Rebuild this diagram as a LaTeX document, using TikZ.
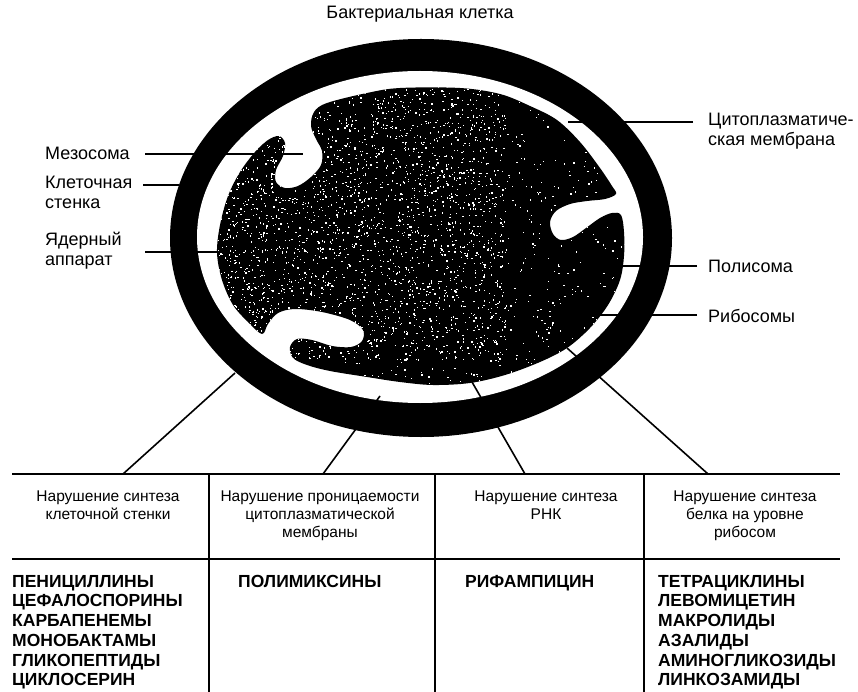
\documentclass[tikz,border=0pt]{standalone}
\usepackage{fontspec}
\setmainfont{Liberation Sans}

\begin{document}
\begin{tikzpicture}[x=1pt,y=-1pt,
    lbl/.style={anchor=north west,inner sep=0pt,align=left,font=\fontsize{18}{20}\selectfont},
    head/.style={anchor=north,inner sep=0pt,align=center,font=\fontsize{15.5}{18}\selectfont},
    drug/.style={anchor=north west,inner sep=0pt,align=left,font=\bfseries\fontsize{17.5}{19.7}\selectfont},
    lead/.style={line width=1.6pt},
    rule/.style={line width=2pt}
  ]
    \useasboundingbox (0,0) rectangle (858,692);

    % cell wall
    \fill (421,238) ellipse [x radius=251pt, y radius=199pt];
    \fill[white] (420,237) ellipse [x radius=223pt, y radius=166pt];

    % cytoplasm with mesosomes, speckled
    \begin{scope}
      \clip plot[smooth cycle, tension=0.55] coordinates {
        (327,103) (367,93) (400,88) (460,88) (500,94) (530,106) (557,120)
        (580,142) (600,168) (612,186) (616,194)
        (605,199) (587,201) (570,204) (556,211) (550,222) (553,234)
        (561,240) (573,237) (586,228) (600,218) (612,213) (621,215)
        (624,232) (624,256) (620,280) (608,305) (590,328) (567,348)
        (540,362) (505,375) (470,383) (433,385) (400,382) (367,377)
        (330,371) (307,365) (293,358) (290,347) (297,339) (312,340)
        (332,346) (351,347) (362,341) (363,330) (350,320) (322,312)
        (295,309) (278,313) (268,324) (262,334) (248,322) (233,305)
        (222,280) (217,253) (220,225) (228,196) (240,172) (255,152)
        (268,140) (279,136) (285,143) (283,156) (276,170) (276,182)
        (285,188) (298,186) (311,177) (321,165) (322,151) (316,139)
        (311,126) (314,112)};
      \fill (200,80) rectangle (640,400);
      \pgfmathsetseed{42}
      \foreach \i in {1,...,1000}{
        \pgfmathsetmacro{\px}{215+410*rnd}
        \pgfmathsetmacro{\py}{85+305*rnd}
        \fill[white] (\px,\py) rectangle ++(1.3,1.3);
      }
      \foreach \i in {1,...,2200}{
        \pgfmathsetmacro{\px}{215+290*rnd}
        \pgfmathsetmacro{\py}{85+275*rnd}
        \fill[white] (\px,\py) rectangle ++(1.3,1.3);
      }
    \end{scope}

    % title and labels
    \node[lbl,anchor=base] (title) at (420,19) {Бактериальная клетка};
    \node[lbl] (meso) at (45,147) {Мезосома};
    \node[lbl] (wall) at (45,176) {Клеточная\\стенка};
    \node[lbl] (nucl) at (45,232) {Ядерный\\аппарат};
    \node[lbl] (memb) at (708,113) {Цитоплазматиче-\\ская мембрана};
    \node[lbl] (poly) at (708,260) {Полисома};
    \node[lbl] (ribo) at (708,309) {Рибосомы};

    % leader ends
    \coordinate (mesoL) at (145,154);  \coordinate (mesoR) at (303,154);
    \coordinate (wallL) at (143,185);  \coordinate (wallR) at (179,185);
    \coordinate (nuclL) at (145,252);  \coordinate (nuclR) at (220,252);
    \coordinate (membR) at (693,122);  \coordinate (membL) at (568,122);
    \coordinate (polyR) at (697,266);  \coordinate (polyL) at (623,266);
    \coordinate (riboR) at (697,315);  \coordinate (riboL) at (597,315);

    \draw[lead] (mesoL) -- (mesoR);
    \draw[lead] (wallL) -- (wallR);
    \draw[lead] (nuclL) -- (nuclR);
    \draw[lead] (membR) -- (membL);
    \draw[lead] (polyR) -- (polyL);
    \draw[lead] (riboR) -- (riboL);

    % table
    \draw[rule] (12,474) -- (840,474);
    \draw[rule] (12,559) -- (840,559);
    \foreach \x in {209,435,644}
      \draw[rule] (\x,474) -- (\x,692);

    \node[head] (h1) at (108,491) {Нарушение синтеза\\клеточной стенки};
    \node[head] (h2) at (320,491) {Нарушение проницаемости\\цитоплазматической\\мембраны};
    \node[head] (h3) at (546,491) {Нарушение синтеза\\РНК};
    \node[head] (h4) at (745,491) {Нарушение синтеза\\белка на уровне\\рибосом};

    \node[drug] (d1) at (12,575) {ПЕНИЦИЛЛИНЫ\\ЦЕФАЛОСПОРИНЫ\\КАРБАПЕНЕМЫ\\МОНОБАКТАМЫ\\ГЛИКОПЕПТИДЫ\\ЦИКЛОСЕРИН};
    \node[drug] (d2) at (238,575) {ПОЛИМИКСИНЫ};
    \node[drug] (d3) at (465,575) {РИФАМПИЦИН};
    \node[drug] (d4) at (658,575) {ТЕТРАЦИКЛИНЫ\\ЛЕВОМИЦЕТИН\\МАКРОЛИДЫ\\АЗАЛИДЫ\\АМИНОГЛИКОЗИДЫ\\ЛИНКОЗАМИДЫ};

    % targets on the cell
    \coordinate (c1) at (123,474);  \coordinate (wallpt) at (235,373);
    \coordinate (c2) at (323,474);  \coordinate (membpt) at (380,396);
    \coordinate (c3) at (525,474);  \coordinate (rnapt) at (472,382);
    \coordinate (c4) at (708,474);  \coordinate (ribopt) at (567,348);

    \draw[lead] (c1) -- (wallpt);
    \draw[lead] (c2) -- (membpt);
    \draw[lead] (c3) -- (rnapt);
    \draw[lead] (c4) -- (ribopt);
\end{tikzpicture}
\end{document}
